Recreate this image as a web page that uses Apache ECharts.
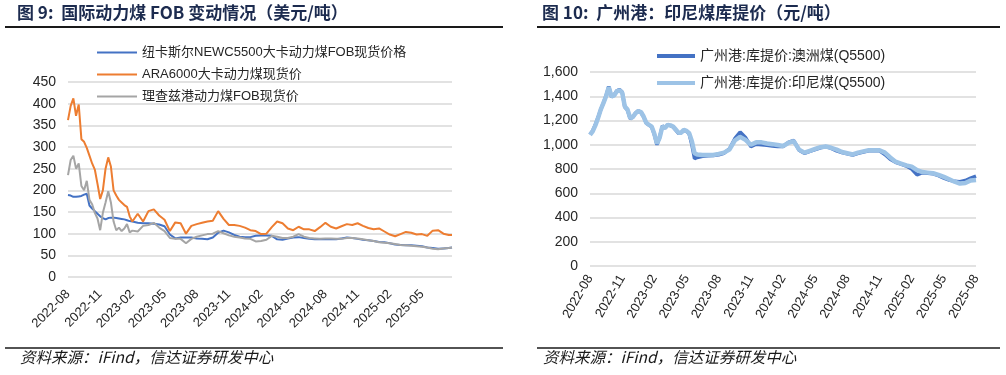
<!DOCTYPE html>
<html>
<head>
<meta charset="utf-8">
<script src="https://cdn.jsdelivr.net/npm/echarts@6/dist/echarts.min.js"></script>
<style>
html,body{margin:0;padding:0;background:#fff;}
#chart{width:1006px;height:375px;}
</style>
</head>
<body>
<div id="chart"></div>
<script>
// ---- tick labels (x axis, one every 3 months from 2022-08) ----
const tickLabels = ['2022-08','2022-11','2023-02','2023-05','2023-08','2023-11','2024-02','2024-05','2024-08','2024-11','2025-02','2025-05','2025-08'];

// ---- left chart: months since 2022-08 ----
const leftMonths = [0,0.25,0.5,0.75,1,1.25,1.5,1.75,2,2.25,2.5,2.75,3,3.25,3.5,3.75,4,4.25,4.5,4.75,5,5.25,5.5,5.75,6,
6.5,7,7.5,8,8.5,9,9.5,10,10.5,11,11.5,12,12.5,13,13.5,14,14.5,15,15.5,16,16.5,17,17.5,18,18.5,19,19.5,20,20.5,21,21.5,22,22.5,23,23.5,24,24.5,25,25.5,26,26.5,27,27.5,28,28.5,29,29.5,30,30.5,31,31.5,32,32.5,33,33.5,34,34.5,35,35.5,35.8];

const newcastle = [189,188,185,185,186,187,190,192,165,158,152,146,140,136,133,136,137,137,136,135,134,133,131,129,128,
125,124,124,123,121,117,98,89,91,91,91,89,88,87,91,102,107,103,97,93,92,92,95,96,96,95,87,86,89,91,92,90,88,87,87,87,87,87,89,91,90,88,86,85,83,81,80,78,75,74,73,73,72,71,68,67,65,66,67,68];

const ara = [362,395,412,372,398,318,312,298,280,262,248,215,180,200,250,276,255,200,188,178,172,166,162,140,128,
146,128,152,156,142,132,106,126,124,100,118,122,125,128,130,152,134,120,120,118,114,108,106,99,100,115,128,124,112,108,116,110,110,106,115,125,116,112,117,122,120,124,118,113,110,112,105,98,94,99,104,102,98,99,95,107,108,100,97,97];

const richardsBay = [235,270,280,250,262,210,200,222,178,168,148,135,108,148,172,198,172,128,108,114,106,112,122,103,107,
105,118,120,125,114,106,90,88,88,78,88,93,96,99,100,106,101,96,93,91,89,88,82,83,86,95,93,90,90,93,99,93,90,89,88,89,89,88,88,90,90,89,87,85,83,80,79,78,76,74,73,72,71,70,68,65,64,66,67,68];

// ---- right chart: months since 2022-08 ----
const rightMonths = [0,0.25,0.5,0.75,1,1.25,1.5,1.75,2,2.25,2.5,2.75,3,3.25,3.5,3.75,4,4.25,4.5,4.75,5,5.25,5.5,5.75,6,6.25,6.5,6.75,7,7.25,7.5,7.75,8,8.25,8.5,8.75,9,9.25,9.5,9.75,10,
10.5,11,11.5,12,12.5,13,13.5,14,14.5,15,15.5,16,16.5,17,17.5,18,18.5,19,19.5,20,20.5,21,21.5,22,22.5,23,23.5,24,24.5,25,25.5,26,26.5,27,27.5,28,28.5,29,29.5,30,30.5,31,31.5,32,32.5,33,33.5,34,34.5,35,35.5,36];

const australia = [1085,1115,1165,1225,1290,1345,1405,1480,1395,1410,1445,1455,1435,1310,1285,1215,1228,1262,1280,1268,1230,1178,1162,1148,1085,1000,1065,1155,1138,1165,1158,1148,1120,1095,1098,1120,1112,1090,1000,885,895,
905,910,912,918,930,965,1050,1105,1060,985,1005,1000,995,990,985,985,1020,1035,955,930,945,960,975,985,970,950,935,925,915,930,940,950,950,950,920,880,855,840,825,800,752,770,765,760,745,725,708,698,695,705,725,742];

const indonesia = [1081,1110,1160,1220,1290,1343,1400,1475,1400,1405,1440,1450,1430,1315,1290,1219,1230,1260,1278,1270,1233,1180,1165,1150,1090,1010,1060,1150,1140,1164,1160,1150,1125,1100,1100,1123,1115,1095,1030,930,920,
916,916,916,925,935,960,1035,1065,1040,1000,1020,1020,1010,1005,998,990,1015,1030,960,935,950,965,980,985,975,960,940,930,920,935,945,955,955,955,935,895,860,845,830,820,790,775,770,765,752,735,715,695,680,685,705,710];

const leftNames = ['纽卡斯尔NEWC5500大卡动力煤FOB现货价格','ARA6000大卡动力煤现货价','理查兹港动力煤FOB现货价'];
const rightNames = ['广州港:库提价:澳洲煤(Q5500)','广州港:库提价:印尼煤(Q5500)'];

function pairs(xs, ys){ return xs.map((x,i)=>[x, ys[i]]); }
const FONT = "'Liberation Sans', Arial, 'Noto Sans CJK SC', sans-serif";
const CJK = "'Noto Sans CJK SC', 'Liberation Sans', sans-serif";

function xLabel(v){
  const k = v/3;
  if (Math.abs(k-Math.round(k))<1e-6) return tickLabels[Math.round(k)] || '';
  return '';
}

const chart = echarts.init(document.getElementById('chart'), null, {renderer:'canvas'});
const option = {
  animation:false,
  backgroundColor:'#ffffff',
  title:[
    {text:'图 9:  国际动力煤 FOB 变动情况（美元/吨）', left:17, top:4, padding:0,
     textStyle:{fontSize:17, fontWeight:'bold', color:'#1c2b4f', fontFamily:CJK}},
    {text:'图 10:  广州港：印尼煤库提价（元/吨）', left:542, top:4, padding:0,
     textStyle:{fontSize:17, fontWeight:'bold', color:'#1c2b4f', fontFamily:CJK}}
  ],
  legend:[
    {orient:'vertical', left:97, top:46, padding:0, icon:'rect', itemWidth:40, itemHeight:2, itemGap:9,
     data:leftNames, textStyle:{fontSize:13, color:'#262626', fontFamily:FONT}},
    {orient:'vertical', left:657, top:49, padding:0, icon:'rect', itemWidth:38, itemHeight:4, itemGap:13,
     data:rightNames, textStyle:{fontSize:14, color:'#262626', fontFamily:FONT}}
  ],
  grid:[
    {left:68, right:554, top:82, bottom:98},
    {left:590, right:30, top:72, bottom:109}
  ],
  xAxis:[
    {type:'value', gridIndex:0, min:0, max:35.8, interval:3,
     axisLine:{show:false}, axisTick:{show:false}, splitLine:{show:false},
     axisLabel:{rotate:45, margin:15, fontSize:13, color:'#262626', fontFamily:FONT, formatter:xLabel}},
    {type:'value', gridIndex:1, min:0, max:36, interval:3,
     axisLine:{show:false}, axisTick:{show:false}, splitLine:{show:false},
     axisLabel:{rotate:60, margin:10, fontSize:13, color:'#262626', fontFamily:FONT, formatter:xLabel}}
  ],
  yAxis:[
    {type:'value', gridIndex:0, min:0, max:450, interval:50,
     axisLine:{show:false}, axisTick:{show:false},
     splitLine:{lineStyle:{color:'#d9d9d9', width:1.5}},
     axisLabel:{margin:12, fontSize:14, color:'#262626', fontFamily:FONT}},
    {type:'value', gridIndex:1, min:0, max:1600, interval:200,
     axisLine:{show:false}, axisTick:{show:false},
     splitLine:{lineStyle:{color:'#d9d9d9', width:1.5}},
     axisLabel:{margin:12, fontSize:14, color:'#262626', fontFamily:FONT,
       formatter:function(v){return v.toLocaleString('en-US');}}}
  ],
  series:[
    {name:leftNames[0], type:'line', xAxisIndex:0, yAxisIndex:0, data:pairs(leftMonths,newcastle),
     symbol:'none', lineStyle:{color:'#4472C4', width:2}, itemStyle:{color:'#4472C4'}},
    {name:leftNames[1], type:'line', xAxisIndex:0, yAxisIndex:0, data:pairs(leftMonths,ara),
     symbol:'none', lineStyle:{color:'#ED7D31', width:2}, itemStyle:{color:'#ED7D31'}},
    {name:leftNames[2], type:'line', xAxisIndex:0, yAxisIndex:0, data:pairs(leftMonths,richardsBay),
     symbol:'none', lineStyle:{color:'#A5A5A5', width:2}, itemStyle:{color:'#A5A5A5'}},
    {name:rightNames[0], type:'line', xAxisIndex:1, yAxisIndex:1, data:pairs(rightMonths,australia),
     symbol:'none', lineStyle:{color:'#4472C4', width:3.5}, itemStyle:{color:'#4472C4'}},
    {name:rightNames[1], type:'line', xAxisIndex:1, yAxisIndex:1, data:pairs(rightMonths,indonesia),
     symbol:'none', lineStyle:{color:'#9DC3E6', width:4.5}, itemStyle:{color:'#9DC3E6'}}
  ],
  graphic:[
    {type:'line', shape:{x1:5,y1:27,x2:503,y2:27}, style:{stroke:'#1a1a1a', lineWidth:2}},
    {type:'line', shape:{x1:537,y1:27,x2:1000,y2:27}, style:{stroke:'#1a1a1a', lineWidth:2}},
    {type:'line', shape:{x1:5,y1:348,x2:503,y2:348}, style:{stroke:'#1a1a1a', lineWidth:1.5}},
    {type:'line', shape:{x1:537,y1:348,x2:1000,y2:348}, style:{stroke:'#1a1a1a', lineWidth:1.5}},
    {type:'text', left:20, top:349, style:{text:'资料来源：iFind，信达证券研发中心', fill:'#1a1a1a',
      font:"italic 15.5px 'Noto Sans CJK SC', 'Liberation Sans', sans-serif"}},
    {type:'text', left:543, top:349, style:{text:'资料来源：iFind，信达证券研发中心', fill:'#1a1a1a',
      font:"italic 15.5px 'Noto Sans CJK SC', 'Liberation Sans', sans-serif"}}
  ]
};
chart.setOption(option);
</script>
</body>
</html>
